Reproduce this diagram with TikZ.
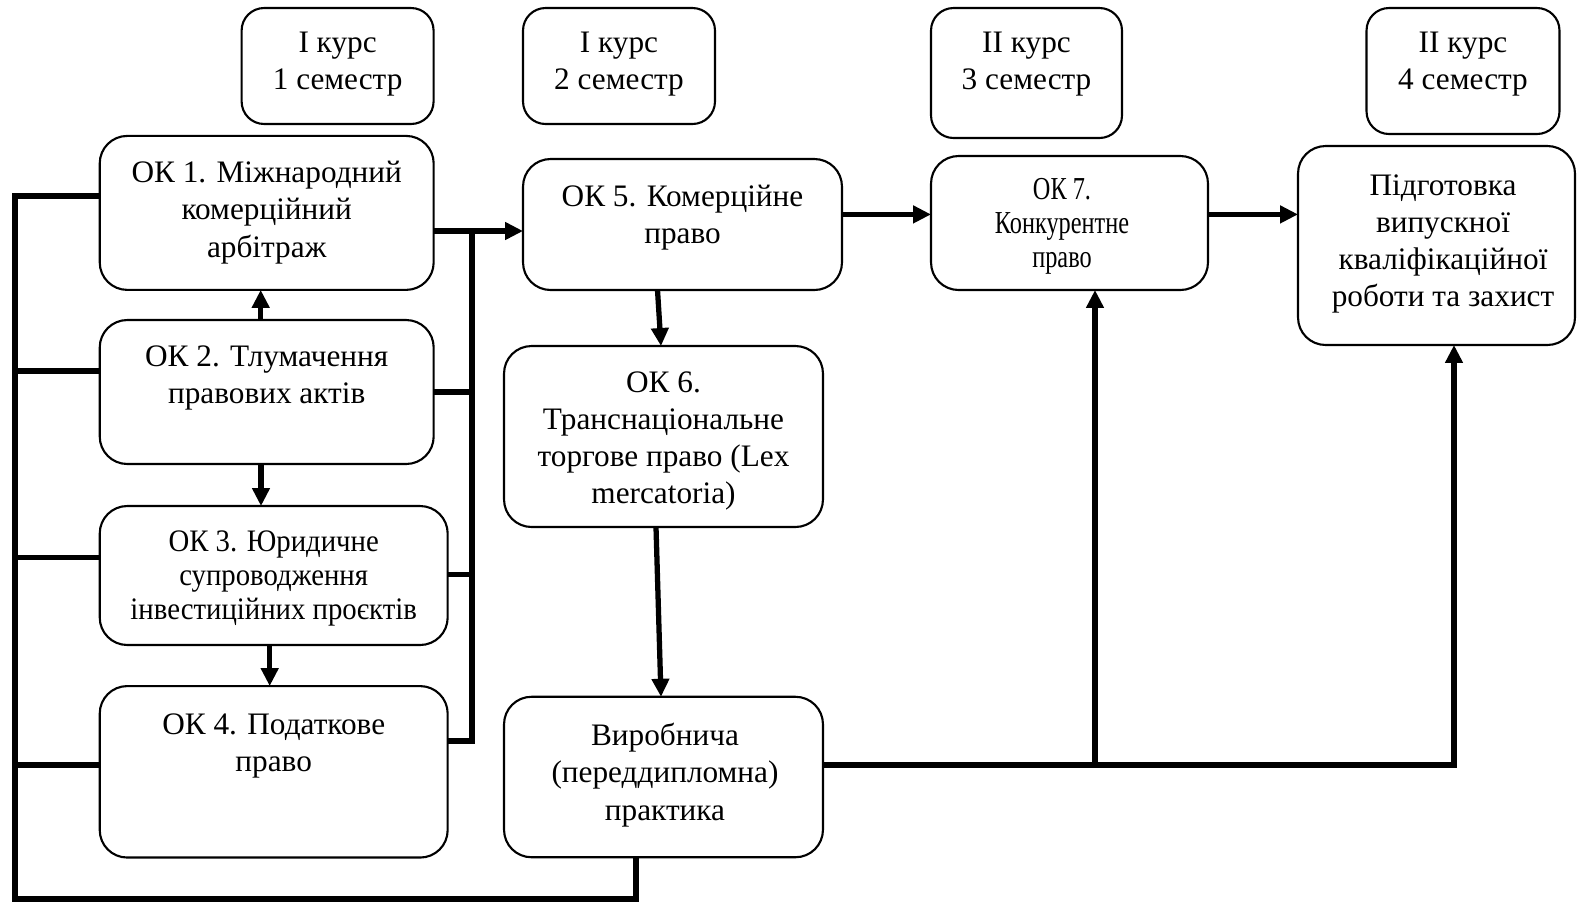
\documentclass[tikz,border=0pt]{standalone}
\usepackage{fontspec}
\setmainfont{Liberation Serif}
\newfontfamily\condfont[FakeStretch=0.92]{Liberation Serif}
\newfontfamily\narrowfont[FakeStretch=0.76]{Liberation Serif}
\usetikzlibrary{arrows.meta}
\begin{document}
\begin{tikzpicture}[x=0.02cm,y=-0.02cm,
  box/.style={draw, rounded corners=0.55cm, line width=1.2pt, inner sep=0pt, outer sep=0pt},
  hbox/.style={draw, rounded corners=0.45cm, line width=1.2pt, inner sep=0pt, outer sep=0pt},
  txt/.style={align=center, inner sep=0pt, yshift=-1.7pt, font=\fontsize{17.8}{21.2}\selectfont},
  ctxt/.style={align=center, inner sep=0pt, yshift=-1.7pt, font=\condfont\fontsize{17.8}{19.5}\selectfont},
  ntxt/.style={align=center, inner sep=0pt, yshift=-1.7pt, font=\narrowfont\fontsize{18.2}{19.5}\selectfont},
  conn/.style={line width=3pt},
  arr/.style={line width=3pt, -{Triangle[length=0.36cm,width=0.34cm]}}]
\useasboundingbox (0,0) rectangle (1578,904);
% header boxes
\node[hbox, minimum width=3.84cm, minimum height=2.32cm] (h1) at (337.6,66) {};
\node[txt] (h1t) at (337.6,61.4) {I курс\\1 семестр};
\node[hbox, minimum width=3.84cm, minimum height=2.32cm] (h2) at (619,66) {};
\node[txt] (h2t) at (619,61.4) {I курс\\2 семестр};
\node[hbox, minimum width=3.82cm, minimum height=2.60cm] (h3) at (1026.5,73) {};
\node[txt] (h3t) at (1026.5,61.4) {II курс\\3 семестр};
\node[hbox, minimum width=3.86cm, minimum height=2.52cm] (h4) at (1463,71) {};
\node[txt] (h4t) at (1463,61.4) {II курс\\4 семестр};
% main boxes
\node[box, minimum width=6.68cm, minimum height=3.08cm] (ok1) at (266.7,212.9) {};
\node[txt] (ok1t) at (266.7,209.5) {ОК 1. Міжнародний\\комерційний\\арбітраж};
\node[box, minimum width=6.68cm, minimum height=2.88cm] (ok2) at (266.7,392) {};
\node[txt] (ok2t) at (266.7,375) {ОК 2. Тлумачення\\правових актів};
\node[box, minimum width=6.96cm, minimum height=2.78cm] (ok3) at (273.7,575.5) {};
\node[ctxt] (ok3t) at (273.7,575.6) {ОК 3. Юридичне\\супроводження\\інвестиційних проєктів};
\node[box, minimum width=6.96cm, minimum height=3.43cm] (ok4) at (273.7,771.8) {};
\node[txt] (ok4t) at (273.7,743) {ОК 4. Податкове\\право};
\node[box, minimum width=6.38cm, minimum height=2.62cm] (ok5) at (682.5,224.5) {};
\node[txt] (ok5t) at (682.5,215) {ОК 5. Комерційне\\право};
\node[box, minimum width=6.38cm, minimum height=3.62cm] (ok6) at (663.5,436.5) {};
\node[txt] (ok6t) at (663.5,438) {ОК 6.\\Транснаціональне\\торгове право (Lex\\mercatoria)};
\node[box, minimum width=6.38cm, minimum height=3.21cm] (vp) at (663.5,777) {};
\node[txt] (vpt) at (665,772) {Виробнича\\(переддипломна)\\практика};
\node[box, minimum width=5.54cm, minimum height=2.68cm] (ok7) at (1069.5,223) {};
\node[ntxt] (ok7t) at (1062,223.4) {ОК 7.\\Конкурентне\\право};
\node[box, minimum width=5.54cm, minimum height=3.98cm] (fin) at (1436.5,245.5) {};
\node[txt] (fint) at (1443,241) {Підготовка\\випускної\\кваліфікаційної\\роботи та захист};
% coordinates
\coordinate (bL1) at (15,196);
\coordinate (bL2) at (15,371);
\coordinate (bL3) at (15,557.5);
\coordinate (bL4) at (15,765);
\coordinate (bL5) at (15,899);
\coordinate (bB) at (636,899);
\coordinate (bR1) at (472,231);
\coordinate (bR2) at (472,392);
\coordinate (bR3) at (472,574.6);
\coordinate (bR4) at (472,741);
\coordinate (a1) at (260.7,0);
\coordinate (a2) at (261,0);
\coordinate (a3) at (269.7,0);
\coordinate (a4) at (657.5,0);
\coordinate (a5) at (661,0);
\coordinate (a6) at (656,0);
\coordinate (hr) at (0,214.4);
\coordinate (vpr) at (1454,765);
\coordinate (vpm) at (1095,765);
% left bus
\draw[conn] (ok1.west |- bL1) -- (bL1) -- (bL5) -- (bB) -- (bB |- vp.south);
\draw[conn] (ok2.west |- bL2) -- (bL2);
\draw[conn] (ok3.west |- bL3) -- (bL3);
\draw[conn] (ok4.west |- bL4) -- (bL4);
% right bus
\draw[conn] (ok4.east |- bR4) -- (bR4) -- (bR1);
\draw[arr] (ok1.east |- bR1) -- (ok5.west |- bR1);
\draw[conn] (ok2.east |- bR2) -- (bR2);
\draw[conn] (ok3.east |- bR3) -- (bR3);
% vertical arrows
\draw[arr] (ok2.north -| a1) -- (ok1.south -| a1);
\draw[arr] (ok2.south -| a2) -- (ok3.north -| a2);
\draw[arr] (ok3.south -| a3) -- (ok4.north -| a3);
\draw[arr] (ok5.south -| a4) -- (ok6.north -| a5);
\draw[arr] (ok6.south -| a6) -- (vp.north -| a5);
% horizontal arrows
\draw[arr] (ok5.east |- hr) -- (ok7.west |- hr);
\draw[arr] (ok7.east |- hr) -- (fin.west |- hr);
% practice to OK7 and final
\draw[arr] (vp.east |- vpr) -- (vpr) -- (vpr |- fin.south);
\draw[arr] (vpm) -- (vpm |- ok7.south);
\end{tikzpicture}
\end{document}
